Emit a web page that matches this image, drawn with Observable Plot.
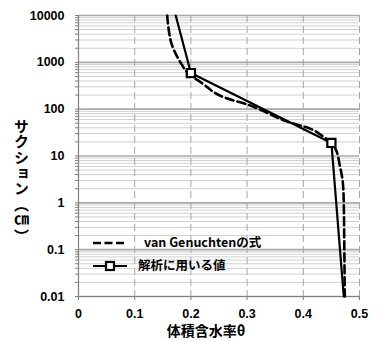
<!DOCTYPE html>
<html>
<head>
<meta charset="utf-8">
<script src="https://cdn.jsdelivr.net/npm/d3@7"></script>
<script src="https://cdn.jsdelivr.net/npm/@observablehq/plot@0.6"></script>
<style>
  html, body { margin: 0; padding: 0; background: #fff; }
  #chart { width: 380px; height: 341px; }
</style>
</head>
<body>
<div id="chart"></div>
<script>
// ---- data ----
const xTicks = [0, 0.1, 0.2, 0.3, 0.4, 0.5];
const xTickLabels = ["0", "0.1", "0.2", "0.3", "0.4", "0.5"];
const yTicks = [0.01, 0.1, 1, 10, 100, 1000, 10000];
const yTickLabels = ["0.01", "0.1", "1", "10", "100", "1000", "10000"];

// van Genuchten curve (dashed): theta, suction (cm)
const vgTheta   = [0.1578, 0.1607, 0.1655, 0.1726, 0.1827, 0.1934, 0.220, 0.2586, 0.306, 0.327, 0.370, 0.413, 0.4336, 0.4573, 0.465, 0.4703, 0.472, 0.473, 0.4738];
const vgSuction = [10000,  4800,   2500,   1550,   940,    615,    358,   180,    119,   93,    55,    38,    27,     14.2,   6.2,   2.74,   1,     0.1,   0.01];

// values used in the analysis (solid with markers)
const useTheta   = [0.173, 0.2, 0.45, 0.472];
const useSuction = [10000, 590, 19,   0.01];
const useMarker  = [false, true, true, false];

const seriesNames = ["van Genuchtenの式", "解析に用いる値"];
const xTitle = "体積含水率θ";
const yTitle = "サクション︵㎝︶";

// ---- build ----
const vg = vgTheta.map((t, i) => ({theta: t, h: vgSuction[i]}));
const used = useTheta.map((t, i) => ({theta: t, h: useSuction[i], marker: useMarker[i]}));

const minorTicks = [];
for (let k = 0; k < yTicks.length - 1; k++) {
  for (let m = 2; m <= 9; m++) minorTicks.push(yTicks[k] * m);
}

const numFont = "'Liberation Sans', Arial, sans-serif";
const cjkFont = "'Noto Sans CJK JP', 'Liberation Sans', sans-serif";

const chart = Plot.plot({
  width: 380,
  height: 341,
  marginLeft: 78,
  marginRight: 21,
  marginTop: 15,
  marginBottom: 45,
  style: {fontFamily: numFont, fontWeight: "bold", fontSize: "12px", color: "#000", background: "#fff"},
  x: {domain: [0, 0.5]},
  y: {type: "log", domain: [0.01, 10000]},
  marks: [
    // minor horizontal grid
    Plot.ruleY(minorTicks, {stroke: "#d0d0d0", strokeWidth: 1}),
    // major horizontal grid
    Plot.ruleY(yTicks, {stroke: "#a9a9a9", strokeWidth: 1.6}),
    // vertical dashed grid
    Plot.ruleX(xTicks.slice(1), {stroke: "#a6a6a6", strokeWidth: 1, strokeDasharray: "7,4"}),
    // axis lines
    Plot.ruleX([0], {stroke: "#808080", strokeWidth: 1.2}),
    Plot.ruleY([0.01], {stroke: "#808080", strokeWidth: 1.2}),
    // tick marks
    Plot.axisY({ticks: minorTicks.concat(yTicks), tickSize: 3, text: null, label: null, stroke: "#808080"}),
    Plot.axisX({ticks: xTicks, tickSize: 4, text: null, label: null, stroke: "#808080"}),
    // tick labels
    Plot.axisY({ticks: yTicks, tickSize: 0, tickPadding: 14, label: null,
      tickFormat: d => yTickLabels[yTicks.indexOf(d)], fontSize: 12.5, fontWeight: "bold", fill: "#000"}),
    Plot.axisX({ticks: xTicks, tickSize: 0, tickPadding: 13, label: null,
      tickFormat: d => xTickLabels[xTicks.indexOf(d)], fontSize: 12.5, fontWeight: "bold", fill: "#000"}),
    // series
    Plot.line(vg, {x: "theta", y: "h", stroke: "#000", strokeWidth: 2.6, strokeDasharray: "8,4", curve: "monotone-y"}),
    Plot.line(used, {x: "theta", y: "h", stroke: "#000", strokeWidth: 2.2}),
    Plot.dot(used.filter(d => d.marker), {x: "theta", y: "h", symbol: "square", r: 4.6, fill: "#fff", stroke: "#000", strokeWidth: 2.2}),
    // axis titles
    Plot.text([xTitle], {frameAnchor: "bottom", dx: -13, dy: 39, fontFamily: cjkFont, fontSize: 14, fontWeight: "bold", fill: "#000"}),
    Plot.text([yTitle], {frameAnchor: "left", textAnchor: "middle", dx: -57, dy: 20.5, fontFamily: cjkFont, fontSize: 15, fontWeight: "bold", fill: "#000"})
  ]
});

// y title in vertical writing mode
d3.select(chart).selectAll("text")
  .filter(function() { return this.textContent === yTitle; })
  .attr("dy", null)
  .attr("text-anchor", "middle")
  .style("writing-mode", "vertical-rl")
  .style("letter-spacing", "0.7px");

// legend inside the plot area
const svg = d3.select(chart);
const lg = svg.append("g").attr("font-family", cjkFont).attr("font-weight", "bold")
  .attr("font-size", 12.5).attr("text-anchor", "start");
const rows = [
  {y: 243, dash: "8,3.5", marker: false, tx: 144},
  {y: 266, dash: null, marker: true, tx: 138}
];
rows.forEach((r, i) => {
  lg.append("line").attr("x1", 93).attr("x2", 127).attr("y1", r.y).attr("y2", r.y)
    .attr("stroke", "#000").attr("stroke-width", r.marker ? 2.2 : 2.6)
    .attr("stroke-dasharray", r.dash);
  if (r.marker) {
    lg.append("rect").attr("x", 106).attr("y", r.y - 4).attr("width", 8).attr("height", 8)
      .attr("fill", "#fff").attr("stroke", "#000").attr("stroke-width", 2.2);
  }
  lg.append("text").attr("x", r.tx).attr("y", r.y).attr("dy", "0.35em")
    .attr("text-anchor", "start").attr("fill", "#000").text(seriesNames[i]);
});

document.getElementById("chart").appendChild(chart);
</script>
</body>
</html>
